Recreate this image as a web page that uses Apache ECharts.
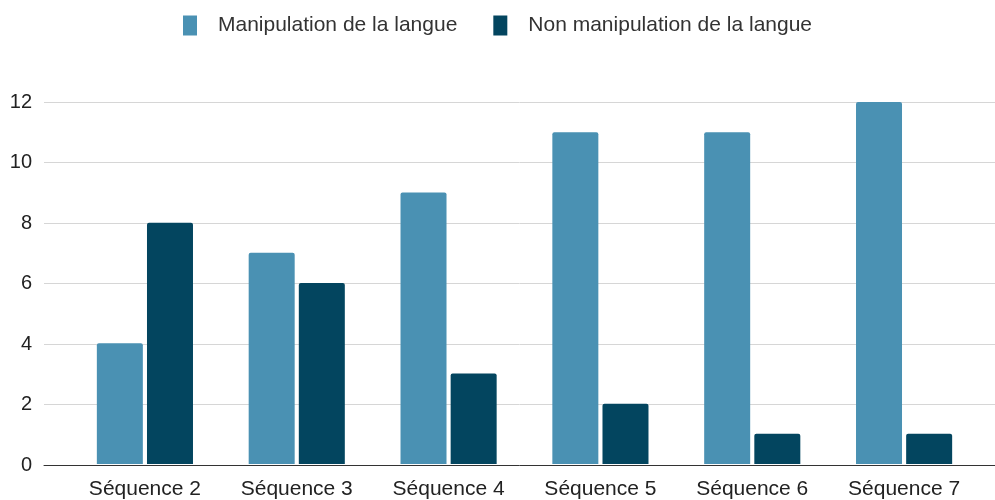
<!DOCTYPE html>
<html>
<head>
<meta charset="utf-8">
<title>Manipulation de la langue</title>
<script src="https://cdn.jsdelivr.net/npm/echarts@6/dist/echarts.min.js"></script>
<style>
  html, body { margin: 0; padding: 0; background: #fff; }
  #chart { width: 995px; height: 500px; }
</style>
</head>
<body>
<div id="chart"></div>
<script>
const sequences = ["Séquence 2", "Séquence 3", "Séquence 4", "Séquence 5", "Séquence 6", "Séquence 7"];
const manipulation = [4, 7, 9, 11, 11, 12];
const nonManipulation = [8, 6, 3, 2, 1, 1];
const seriesNames = ["Manipulation de la langue", "Non manipulation de la langue"];

const font = "Liberation Sans, Arial, sans-serif";

const chart = echarts.init(document.getElementById("chart"));

chart.setOption({
  animation: false,
  legend: {
    data: seriesNames,
    top: 10,
    left: "center",
    itemWidth: 14,
    itemHeight: 20,
    itemGap: 36,
    icon: "rect",
    textStyle: { fontFamily: font, fontSize: 21, color: "#333", padding: [0, 0, 0, 16] },
  },
  grid: [
    // wide grid: y labels, gridlines and the baseline
    { left: 44, right: 0, top: 102, bottom: 35 },
    // bars
    { left: 69, right: 15, top: 102, bottom: 35 },
  ],
  xAxis: [
    {
      gridIndex: 0,
      type: "value",
      min: 0,
      max: 1,
      axisLine: { show: true, lineStyle: { color: "#333", width: 1 } },
      axisTick: { show: false },
      axisLabel: { show: false },
      splitLine: { show: false },
    },
    {
      gridIndex: 1,
      type: "category",
      data: sequences,
      axisLine: { show: false },
      axisTick: { show: false },
      axisLabel: { margin: 15, fontFamily: font, fontSize: 21, color: "#222" },
    },
  ],
  yAxis: [
    {
      gridIndex: 0,
      type: "value",
      min: 0,
      max: 12,
      interval: 2,
      axisLine: { show: false },
      axisTick: { show: false },
      axisLabel: { margin: 12, fontFamily: font, fontSize: 20, color: "#222" },
      splitLine: { lineStyle: { color: "#d6d6d6", width: 1 } },
    },
    {
      gridIndex: 1,
      type: "value",
      min: 0,
      max: 12,
      interval: 2,
      show: false,
      splitLine: { show: false },
    },
  ],
  series: [
    {
      name: seriesNames[0],
      type: "bar",
      xAxisIndex: 1,
      yAxisIndex: 1,
      data: manipulation,
      barWidth: 46,
      barGap: "9%",
      itemStyle: { color: "#4a91b3", borderRadius: [2, 2, 0, 0] },
    },
    {
      name: seriesNames[1],
      type: "bar",
      xAxisIndex: 1,
      yAxisIndex: 1,
      data: nonManipulation,
      barWidth: 46,
      barGap: "9%",
      itemStyle: { color: "#03455f", borderRadius: [2, 2, 0, 0] },
    },
  ],
});
</script>
</body>
</html>
